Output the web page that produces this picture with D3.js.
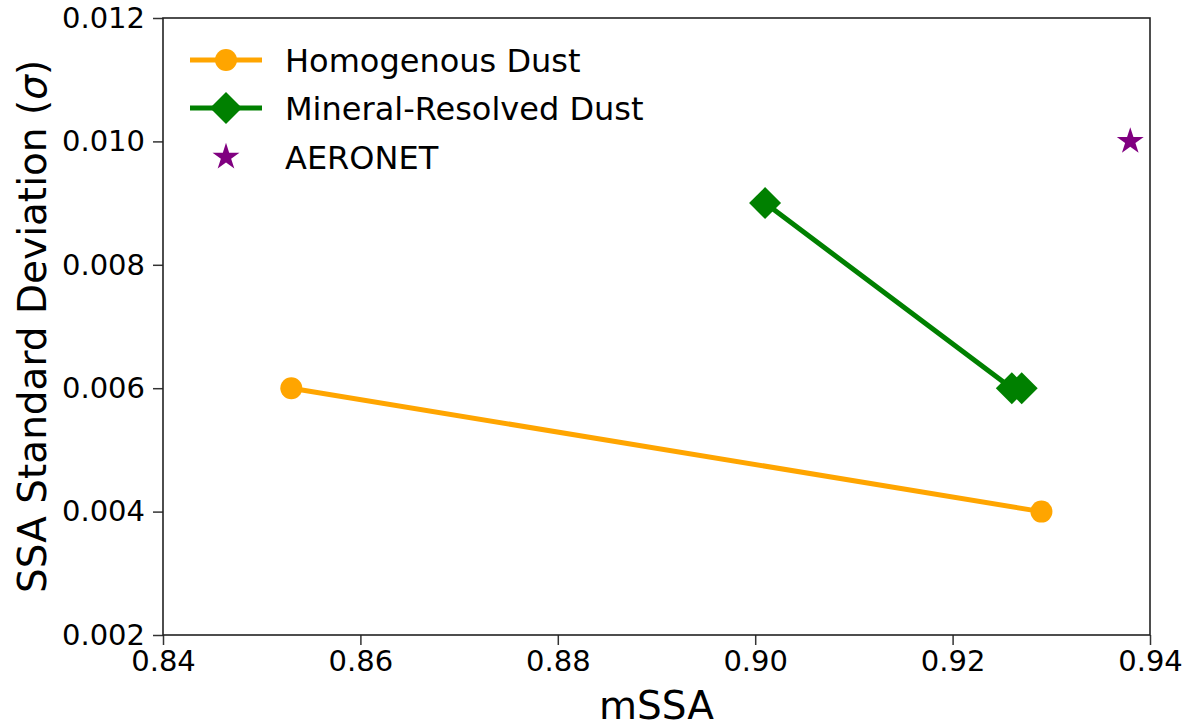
<!DOCTYPE html>
<html>
<head>
<meta charset="utf-8">
<script src="https://cdn.jsdelivr.net/npm/d3@7"></script>
<style>
  body { margin: 0; background: #fff; }
  text { font-family: "DejaVu Sans", sans-serif; fill: #000; }
</style>
</head>
<body>
<svg id="chart" width="1191" height="727"></svg>
<script>
// values
var homogenousX = [0.853, 0.929];
var homogenousY = [0.006, 0.004];
var mineralX = [0.901, 0.926, 0.927];
var mineralY = [0.009, 0.006, 0.006];
var aeronetX = [0.938];
var aeronetY = [0.010];
var xTicks = [0.84, 0.86, 0.88, 0.90, 0.92, 0.94];
var yTicks = [0.002, 0.004, 0.006, 0.008, 0.010, 0.012];
var legendLabels = ["Homogenous Dust", "Mineral-Resolved Dust", "AERONET"];

var margin = {left: 163, right: 41, top: 18, bottom: 92};
var width = 1191 - margin.left - margin.right,
    height = 727 - margin.top - margin.bottom;

var svg = d3.select("#chart");
var g = svg.append("g")
    .attr("transform", "translate(" + margin.left + "," + margin.top + ")");

var x = d3.scaleLinear().domain([0.84, 0.94]).range([0, width]);
var y = d3.scaleLinear().domain([0.002, 0.012]).range([height, 0]);

var zip = function(xs, ys) { return xs.map(function(v, i) { return [v, ys[i]]; }); };

// axes
var xAxis = g.append("g")
    .attr("transform", "translate(0," + height + ")")
    .call(d3.axisBottom(x).tickValues(xTicks).tickFormat(d3.format(".2f")).tickSize(10).tickPadding(5));
var yAxis = g.append("g")
    .call(d3.axisLeft(y).tickValues(yTicks).tickFormat(d3.format(".3f")).tickSize(10).tickPadding(8));

[xAxis, yAxis].forEach(function(a) {
    a.select(".domain").remove();
    a.selectAll(".tick line").attr("stroke", "#333").attr("stroke-width", 1.5);
    a.selectAll(".tick text")
        .style("font-family", "'DejaVu Sans', sans-serif")
        .style("font-size", "29px")
        .attr("fill", "#000");
});

g.append("rect")
    .attr("x", 0).attr("y", 0)
    .attr("width", width).attr("height", height)
    .attr("fill", "none")
    .attr("stroke", "#222")
    .attr("stroke-width", 1.6);

// axis titles
svg.append("text")
    .attr("x", margin.left + width / 2)
    .attr("y", 719)
    .attr("text-anchor", "middle")
    .style("font-size", "39px")
    .text("mSSA");

var ylab = svg.append("text")
    .attr("transform", "translate(46," + (margin.top + height / 2) + ") rotate(-90)")
    .attr("text-anchor", "middle")
    .style("font-size", "39px");
ylab.append("tspan").text("SSA Standard Deviation (");
ylab.append("tspan").style("font-style", "italic").text("σ");
ylab.append("tspan").text(")");

var line = d3.line()
    .x(function(d) { return x(d[0]); })
    .y(function(d) { return y(d[1]); });

var orange = "#ffa500", green = "#008000", purple = "#800080";
var diamond = "M0,-16L16,0L0,16L-16,0Z";
var star = d3.symbol().type(d3.symbolStar).size(225);

// homogenous dust
g.append("path")
    .datum(zip(homogenousX, homogenousY))
    .attr("d", line)
    .attr("fill", "none")
    .attr("stroke", orange)
    .attr("stroke-width", 5);
g.selectAll(".hom")
    .data(zip(homogenousX, homogenousY))
    .enter().append("circle")
    .attr("cx", function(d) { return x(d[0]); })
    .attr("cy", function(d) { return y(d[1]); })
    .attr("r", 11)
    .attr("fill", orange);

// mineral-resolved dust
g.append("path")
    .datum(zip(mineralX, mineralY))
    .attr("d", line)
    .attr("fill", "none")
    .attr("stroke", green)
    .attr("stroke-width", 5);
g.selectAll(".min")
    .data(zip(mineralX, mineralY))
    .enter().append("path")
    .attr("d", diamond)
    .attr("transform", function(d) { return "translate(" + x(d[0]) + "," + y(d[1]) + ")"; })
    .attr("fill", green);

// aeronet
g.selectAll(".aer")
    .data(zip(aeronetX, aeronetY))
    .enter().append("path")
    .attr("d", star)
    .attr("transform", function(d) { return "translate(" + x(d[0]) + "," + y(d[1]) + ")"; })
    .attr("fill", purple);

// legend
var legend = svg.append("g").attr("transform", "translate(190,0)");
var rowY = [60, 108, 157];

legend.append("line").attr("x1", 0).attr("x2", 72).attr("y1", rowY[0]).attr("y2", rowY[0])
    .attr("stroke", orange).attr("stroke-width", 5);
legend.append("circle").attr("cx", 36).attr("cy", rowY[0]).attr("r", 11).attr("fill", orange);

legend.append("line").attr("x1", 0).attr("x2", 72).attr("y1", rowY[1]).attr("y2", rowY[1])
    .attr("stroke", green).attr("stroke-width", 5);
legend.append("path").attr("d", diamond).attr("transform", "translate(36," + rowY[1] + ")").attr("fill", green);

legend.append("path").attr("d", star).attr("transform", "translate(36," + rowY[2] + ")").attr("fill", purple);

legend.selectAll(".lbl")
    .data(legendLabels)
    .enter().append("text")
    .attr("x", 95)
    .attr("y", function(d, i) { return rowY[i]; })
    .attr("dy", "0.36em")
    .style("font-size", "32px")
    .text(function(d) { return d; });
</script>
</body>
</html>
